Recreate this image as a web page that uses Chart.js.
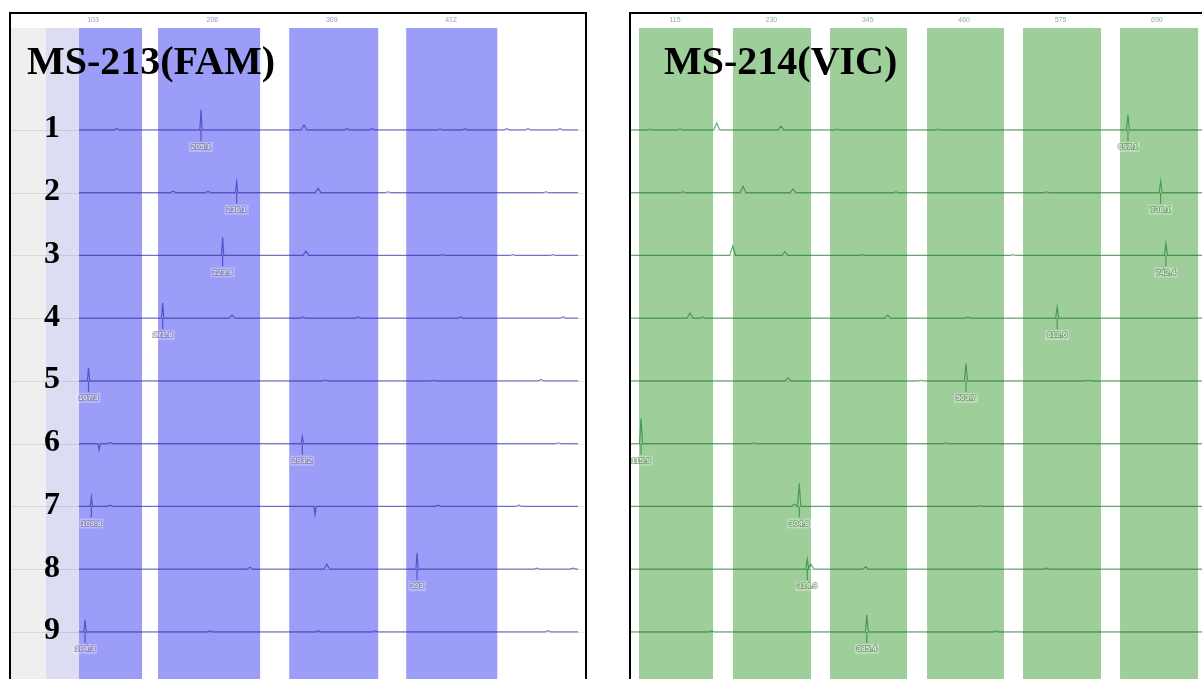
<!DOCTYPE html>
<html>
<head>
<meta charset="utf-8">
<script src="https://cdn.jsdelivr.net/npm/chart.js@4.4.1/dist/chart.umd.min.js"></script>
<style>
  html, body { margin: 0; padding: 0; background: #fff; width: 1202px; height: 679px; overflow: hidden; }
  body { position: relative; }
  .frame { position: absolute; border: 2px solid #000; border-bottom: none; box-sizing: border-box; }
  .plot { position: absolute; }
</style>
</head>
<body>
<div class="frame" style="left:9px; top:12px; width:578px; height:667px;"></div>
<div class="frame" style="left:629px; top:12px; width:600px; height:667px; border-right:none;"></div>
<div class="plot" style="left:11px; top:14px; width:574px; height:665px;"><canvas id="fam"></canvas></div>
<div class="plot" style="left:631px; top:14px; width:571px; height:665px;"><canvas id="vic"></canvas></div>

<script>
// ---- sample lanes ----
const rowNames = ['1', '2', '3', '4', '5', '6', '7', '8', '9'];

// ---- MS-213 (FAM) ----
const famTitle = 'MS-213(FAM)';
const famRulerTicks = [103, 206, 309, 412];
const famBinStart = [90.9, 159.1, 272.3, 373.3];
const famBinEnd = [145.3, 247.2, 349.1, 451.9];
const famPeakSize = [205.1, 236.1, 223.9, 171.8, 107.3, 293.2, 109.8, 393, 104.3];
const famPeakHeight = [0.32, 0.17, 0.29, 0.24, 0.21, 0.12, 0.15, 0.26, 0.19];
const famMinorPeaks = [
  [[131.8, 0.02], [294.7, 0.08], [332.1, 0.02], [353.8, 0.02], [412.9, 0.015], [434.7, 0.02], [470.9, 0.02], [489.5, 0.02], [517.3, 0.02]],
  [[180.8, 0.025], [211.2, 0.02], [306.9, 0.07], [367.7, 0.015], [505.1, 0.015]],
  [[296.4, 0.07], [415.3, 0.015], [476.4, 0.015], [511.2, 0.015]],
  [[232.1, 0.05], [293.8, 0.02], [341.6, 0.02], [430.9, 0.02], [519.9, 0.02]],
  [[313.0, 0.015], [406.9, 0.015], [500.8, 0.025]],
  [[116.5, -0.1], [126.0, 0.02], [515.6, 0.015]],
  [[126.0, 0.02], [304.3, -0.13], [411.2, 0.02], [481.6, 0.02]],
  [[247.7, 0.03], [314.5, 0.08], [497.0, 0.015], [528.6, 0.015]],
  [[213.0, 0.015], [306.9, 0.015], [356.4, 0.02], [507.1, 0.02]]
];

// ---- MS-214 (VIC) ----
const vicTitle = 'MS-214(VIC)';
const vicRulerTicks = [115, 230, 345, 460, 575, 690];
const vicBinStart = [72.1, 184.2, 300.0, 415.8, 530.3, 646.1];
const vicBinEnd = [160.4, 277.3, 391.9, 507.6, 623.4, 739.2];
const vicPeakSize = [697.1, 736.1, 742.4, 612.6, 503.7, 115.9, 304.8, 314.3, 385.4];
const vicPeakHeight = [0.24, 0.18, 0.19, 0.18, 0.28, 0.40, 0.37, 0.16, 0.27];
const vicMinorPeaks = [
  [[126.7, 0.015], [162.4, 0.015], [206.2, 0.11], [282.9, 0.06], [350.0, 0.015], [470.0, 0.015]],
  [[166.0, 0.015], [237.6, 0.1], [297.3, 0.06], [420.0, 0.015], [600.0, 0.015]],
  [[225.3, 0.15], [287.7, 0.06], [380.0, 0.015], [560.0, 0.015]],
  [[174.3, 0.08], [189.5, 0.02], [410.3, 0.05], [506.1, 0.02]],
  [[291.3, 0.05], [450.0, 0.015], [650.0, 0.015]],
  [[250.0, 0.015], [480.0, 0.015]],
  [[299.0, 0.04], [520.0, 0.015]],
  [[318.7, 0.08], [384.0, 0.04], [600.0, 0.015]],
  [[200.0, 0.015], [540.0, 0.015]]
];

// ---- layout of the lanes on the value axis ----
const Y_MAX = 10, Y_MIN = -0.375;
const laneBase = rowNames.map((_, i) => 8.375 - i);

const sizeText = v => Number.isInteger(v) ? String(v) : v.toFixed(1);

// one lane trace: flat baseline with a sharp allele peak and small stutter/noise bumps
function laneTrace(base, from, to, peak, height, minor, spikeW, bumpW) {
  const feats = [{ x: peak, h: height, w: spikeW }]
    .concat(minor.map(([x, h]) => ({ x, h, w: h < 0 ? spikeW : bumpW })))
    .sort((a, b) => a.x - b.x);
  const pts = [{ x: from, y: base }];
  feats.forEach(f => {
    pts.push({ x: f.x - f.w, y: base });
    pts.push({ x: f.x, y: base + f.h });
    pts.push({ x: f.x + f.w, y: base });
  });
  pts.push({ x: to, y: base });
  return pts;
}

function gelPlugin(cfg) {
  return {
    id: 'gel_' + cfg.key,
    beforeDraw(chart) {
      const { ctx, chartArea: a } = chart;
      const r = chart.scales.ruler, y = chart.scales.y;
      ctx.save();
      ctx.beginPath();
      ctx.rect(a.left, a.top, a.right - a.left, a.bottom - a.top);
      ctx.clip();
      (cfg.gutters || []).forEach(g => {
        const x0 = r.getPixelForValue(g.from), x1 = r.getPixelForValue(g.to);
        ctx.fillStyle = g.color;
        ctx.fillRect(x0, a.top, x1 - x0, a.bottom - a.top);
      });
      ctx.fillStyle = cfg.binColor;
      cfg.binStart.forEach((s, i) => {
        const x0 = r.getPixelForValue(s), x1 = r.getPixelForValue(cfg.binEnd[i]);
        ctx.fillRect(x0, a.top, x1 - x0, a.bottom - a.top);
      });
      ctx.strokeStyle = cfg.rule;
      ctx.lineWidth = 1;
      laneBase.forEach(b => {
        const py = Math.round(y.getPixelForValue(b)) + 0.5;
        ctx.beginPath();
        ctx.moveTo(a.left, py);
        ctx.lineTo(a.right, py);
        ctx.stroke();
      });
      ctx.restore();
    },
    afterDatasetsDraw(chart) {
      const { ctx, chartArea: a } = chart;
      const x = chart.scales.x, y = chart.scales.y;
      ctx.save();
      // size call markers and their labels
      ctx.font = '8px "Liberation Sans", Arial, sans-serif';
      ctx.textAlign = 'center';
      ctx.textBaseline = 'middle';
      cfg.peakSize.forEach((v, i) => {
        const px = x.getPixelForValue(v);
        const py = y.getPixelForValue(laneBase[i]);
        ctx.strokeStyle = cfg.line;
        ctx.lineWidth = 1.2;
        ctx.beginPath();
        ctx.moveTo(px, py);
        ctx.lineTo(px, py + 11);
        ctx.stroke();
        const t = sizeText(v);
        const w = ctx.measureText(t).width + 4;
        const cy = py + 17;
        ctx.fillStyle = cfg.labelBox;
        ctx.fillRect(px - w / 2, cy - 5, w, 10);
        ctx.lineWidth = 2;
        ctx.strokeStyle = cfg.labelEdge;
        ctx.strokeText(t, px, cy);
        ctx.fillStyle = cfg.labelInk;
        ctx.fillText(t, px, cy);
      });
      // lane numbers
      if (cfg.showRowNames) {
        ctx.font = 'bold 32px "Liberation Serif", "Times New Roman", serif';
        ctx.textAlign = 'center';
        ctx.textBaseline = 'alphabetic';
        ctx.fillStyle = '#000';
        rowNames.forEach((n, i) => {
          ctx.fillText(n, a.left + 41, y.getPixelForValue(laneBase[i]) + 7.5);
        });
      }
      // panel title
      ctx.font = 'bold 40px "Liberation Serif", "Times New Roman", serif';
      ctx.textAlign = 'left';
      ctx.textBaseline = 'alphabetic';
      ctx.fillStyle = '#000';
      ctx.fillText(cfg.title, a.left + cfg.titleDx, a.top + 46);
      ctx.restore();
    }
  };
}

function makeChart(canvasId, cfg) {
  const datasets = cfg.peakSize.map((p, i) => ({
    label: rowNames[i],
    data: laneTrace(laneBase[i], cfg.traceFrom, cfg.traceTo, p, cfg.peakHeight[i], cfg.minor[i], cfg.spikeW, cfg.bumpW),
    borderColor: cfg.line,
    borderWidth: 1.2,
    pointRadius: 0,
    tension: 0,
    fill: false,
    xAxisID: 'x',
    yAxisID: 'y'
  }));
  return new Chart(document.getElementById(canvasId), {
    type: 'line',
    data: { datasets },
    options: {
      responsive: true,
      maintainAspectRatio: false,
      animation: false,
      devicePixelRatio: 1,
      layout: { padding: 0 },
      plugins: { legend: { display: false }, tooltip: { enabled: false }, title: { display: false } },
      scales: {
        x: { type: 'linear', min: cfg.sizeMin, max: cfg.sizeMax, display: false },
        ruler: {
          type: 'linear', axis: 'x', position: 'top',
          min: cfg.rulerMin, max: cfg.rulerMax,
          afterBuildTicks: s => { s.ticks = cfg.rulerTicks.map(v => ({ value: v })); },
          afterFit: s => { s.height = 14; },
          grid: { display: false, drawTicks: false },
          border: { display: false },
          ticks: {
            autoSkip: false, maxRotation: 0, padding: 4,
            color: cfg.tickColor,
            font: { size: 7, family: '"Liberation Sans", Arial, sans-serif' }
          }
        },
        y: { type: 'linear', min: Y_MIN, max: Y_MAX, display: false }
      }
    },
    plugins: [gelPlugin(cfg)]
  });
}

makeChart('fam', {
  key: 'fam',
  title: famTitle, titleDx: 16, showRowNames: true,
  sizeMin: 39.9, sizeMax: 539.0, rulerMin: 32.2, rulerMax: 527.6,
  traceFrom: 99.0, traceTo: 533.0,
  rulerTicks: famRulerTicks, binStart: famBinStart, binEnd: famBinEnd,
  peakSize: famPeakSize, peakHeight: famPeakHeight, minor: famMinorPeaks,
  spikeW: 1.0, bumpW: 2.6,
  gutters: [{ from: 32.2, to: 62.4, color: '#efefef' }, { from: 62.4, to: 90.9, color: '#dcdcf2' }],
  binColor: '#9c9cf9',
  rule: 'rgba(0,0,0,0.09)',
  line: 'rgba(40,40,170,0.62)',
  tickColor: '#9696c8',
  labelBox: 'rgba(255,255,255,0.28)', labelEdge: 'rgba(110,110,150,0.55)', labelInk: 'rgba(250,250,255,0.95)'
});

makeChart('vic', {
  key: 'vic',
  title: vicTitle, titleDx: 33, showRowNames: false,
  sizeMin: 103.9, sizeMax: 785.5, rulerMin: 62.5, rulerMax: 743.9,
  traceFrom: 103.9, traceTo: 785.5,
  rulerTicks: vicRulerTicks, binStart: vicBinStart, binEnd: vicBinEnd,
  peakSize: vicPeakSize, peakHeight: vicPeakHeight, minor: vicMinorPeaks,
  spikeW: 1.8, bumpW: 3.6,
  gutters: [],
  binColor: '#9ecf9b',
  rule: 'rgba(0,0,0,0.09)',
  line: 'rgba(25,120,40,0.62)',
  tickColor: '#8fb08f',
  labelBox: 'rgba(255,255,255,0.28)', labelEdge: 'rgba(90,130,90,0.55)', labelInk: 'rgba(248,255,248,0.95)'
});
</script>
</body>
</html>
